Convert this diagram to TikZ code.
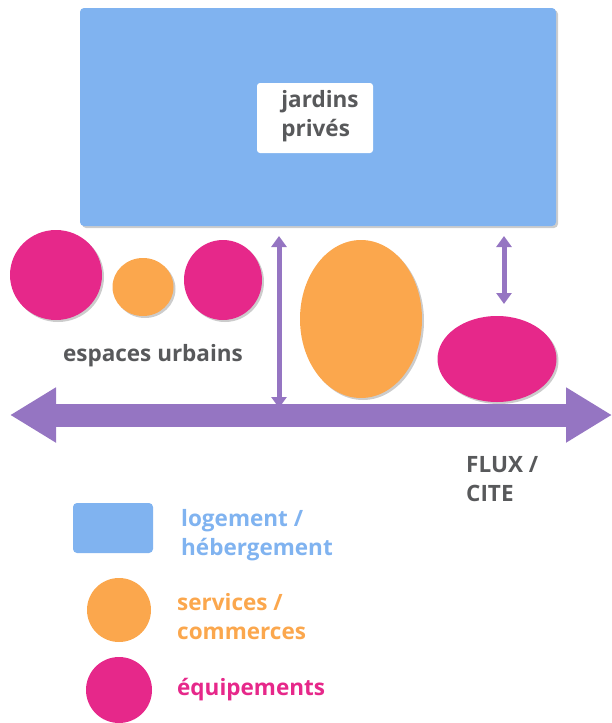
\documentclass[tikz,border=0pt]{standalone}
\usepackage{fontspec}
\setmainfont{Open Sans}
\usetikzlibrary{shapes.geometric,arrows.meta,shadows}
\definecolor{logement}{HTML}{80B3F0}
\definecolor{service}{HTML}{FBA74D}
\definecolor{equip}{HTML}{E6288A}
\definecolor{flux}{HTML}{9575C2}
\definecolor{gris}{HTML}{58595B}

\begin{document}
\begin{tikzpicture}[x=1pt,y=-1pt,
    every node/.style={inner sep=0pt,font=\bfseries\fontsize{22.5}{29}\selectfont},
    ombre/.style={drop shadow={opacity=.4,shadow xshift=2pt,shadow yshift=-2pt}},
    logementbox/.style={fill=logement,rounded corners=4pt},
    servicebox/.style={ellipse,fill=service},
    equipbox/.style={ellipse,fill=equip},
    fluxbig/.style={flux,line width=23pt,{Triangle[length=46pt,width=52pt]}-{Triangle[length=46pt,width=52pt]}},
    fluxthin/.style={flux,line width=5pt,{Triangle[length=11pt,width=15pt]}-{Triangle[length=11pt,width=15pt]}}
  ]
  \useasboundingbox (0,0) rectangle (612,723);

  % batiment
  \node[logementbox,ombre,minimum width=476pt,minimum height=218pt] (logement) at (318,117) {};
  \node[fill=white,rounded corners=3pt,minimum width=116pt,minimum height=70pt] (jardins) at (315,118) {};
  \node[align=left,text=gris] (jardinstxt) at (320,116) {jardins\\privés};

  % espaces urbains
  \node[equipbox,ombre,minimum width=92pt,minimum height=90pt] (equipA) at (56,275) {};
  \node[servicebox,ombre,minimum width=61pt,minimum height=58pt] (serviceA) at (143,287) {};
  \node[equipbox,ombre,minimum width=78pt,minimum height=80pt] (equipB) at (223,280) {};
  \node[servicebox,ombre,minimum width=122pt,minimum height=158pt] (serviceB) at (361,319) {};
  \node[equipbox,ombre,minimum width=119pt,minimum height=86pt] (equipC) at (497,359) {};
  \node[text=gris] (urbains) at (153,356) {espaces urbains};

  % flux
  \coordinate (fluxW) at (10,415);
  \coordinate (fluxE) at (612,415);
  \draw[fluxbig] (fluxW) -- (fluxE);
  \coordinate (lienA) at (279,236);
  \coordinate (lienAb) at (279,408);
  \draw[fluxthin] (lienA) -- (lienAb);
  \coordinate (lienB) at (504,236);
  \coordinate (lienBb) at (504,304);
  \draw[fluxthin] (lienB) -- (lienBb);
  \node[align=left,anchor=west,text=gris] (fluxtxt) at (466,479) {FLUX /\\CITE};

  % legende
  \node[logementbox,minimum width=80pt,minimum height=50pt] (legA) at (113,528) {};
  \node[align=left,anchor=west,text=logement] (legAtxt) at (181,535) {logement /\\hébergement};
  \node[circle,fill=service,minimum size=64pt] (legB) at (119,610) {};
  \node[align=left,anchor=west,text=service] (legBtxt) at (177,617) {services /\\commerces};
  \node[circle,fill=equip,minimum size=66pt] (legC) at (119,690) {};
  \node[anchor=west,text=equip] (legCtxt) at (177,690) {équipements};
\end{tikzpicture}
\end{document}
